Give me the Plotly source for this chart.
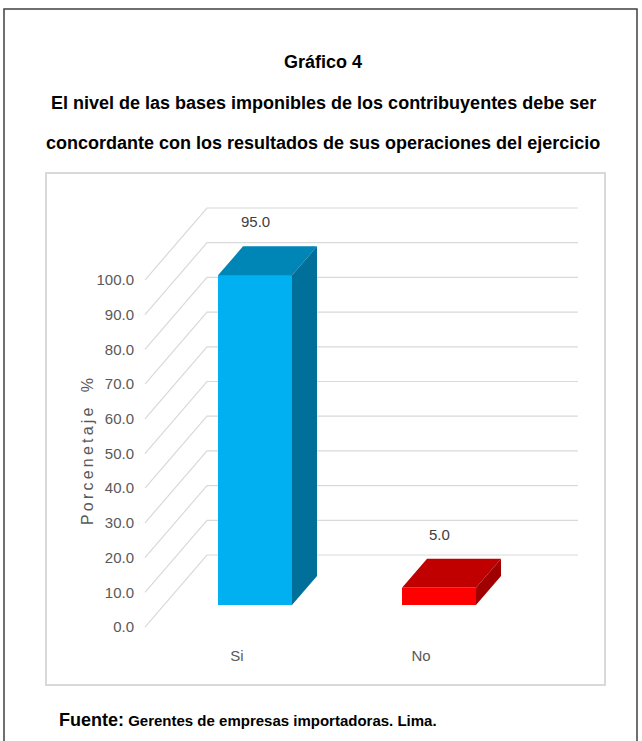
import plotly.graph_objects as go

# ---------------- data ----------------
categories = ["Si", "No"]
values = [95.0, 5.0]
value_labels = ["95.0", "5.0"]
tick_values = [0, 10, 20, 30, 40, 50, 60, 70, 80, 90, 100]
tick_labels = ["0.0", "10.0", "20.0", "30.0", "40.0", "50.0", "60.0", "70.0", "80.0", "90.0", "100.0"]
colors_front = ["#00B0F0", "#FF0000"]
colors_top = ["#0085B7", "#C00000"]
colors_side = ["#006F99", "#A10000"]

# ---------------- geometry (pseudo 3-D) ----------------
W, H = 642, 741
PL, PR, PT, PB = 46, 605, 173, 685          # plot area (inner frame) in px
X_RANGE = [-1.1359, 1.9022]
Y_RANGE = [-16.71, 130.84]
BAR_W = 0.402
BAR_BASE = 6.34        # front face floor (depth offset)
BAR_DX, BAR_DY = 0.136, 8.36
WALL_X_FRONT, WALL_X_BACK, WALL_X_RIGHT = -0.598, -0.261, 1.755
WALL_DY = 20.75

AXIS_FONT = "Liberation Sans, Arial, sans-serif"
TITLE_FONT = "Liberation Sans, Arial, sans-serif"


def xp(p):
    return (p - PL) / (PR - PL)


def yp(p):
    return (PB - p) / (PB - PT)


fig = go.Figure()

# gridlines: left side wall diagonals + back wall horizontals (below the bars)
for v in tick_values:
    path = "M {},{} L {},{} L {},{}".format(WALL_X_FRONT, v, WALL_X_BACK, v + WALL_DY,
                                            WALL_X_RIGHT, v + WALL_DY)
    fig.add_shape(type="path", xref="x", yref="y", path=path,
                  line=dict(color="#D9D9D9", width=1.2), layer="below")

# front faces
idx = list(range(len(categories)))
fig.add_trace(go.Bar(x=idx, y=values, base=[BAR_BASE] * len(values), width=BAR_W,
                     marker=dict(color=colors_front, line=dict(width=0)),
                     showlegend=False, hoverinfo="skip"))

# top and side faces
for i, v in enumerate(values):
    x0, x1 = i - BAR_W / 2, i + BAR_W / 2
    top = BAR_BASE + v
    fig.add_trace(go.Scatter(
        x=[x0, x1, x1 + BAR_DX, x0 + BAR_DX, x0],
        y=[top, top, top + BAR_DY, top + BAR_DY, top],
        fill="toself", fillcolor=colors_top[i], mode="lines", line=dict(width=0, color=colors_top[i]),
        hoverinfo="skip", showlegend=False))
    fig.add_trace(go.Scatter(
        x=[x1, x1, x1 + BAR_DX, x1 + BAR_DX, x1],
        y=[BAR_BASE, top, top + BAR_DY, BAR_BASE + BAR_DY, BAR_BASE],
        fill="toself", fillcolor=colors_side[i], mode="lines", line=dict(width=0, color=colors_side[i]),
        hoverinfo="skip", showlegend=False))

# data labels
for i, v in enumerate(values):
    fig.add_annotation(x=i, y=BAR_BASE + v + BAR_DY, text=value_labels[i], showarrow=False,
                       yanchor="bottom", yshift=14,
                       font=dict(family=AXIS_FONT, size=15, color="#404040"))

annotations_text = [
    ("Gráfico 4", 62),
    ("El nivel de las bases imponibles de los contribuyentes debe ser", 103),
    ("concordante con los resultados de sus operaciones del ejercicio", 143),
]
for t, y in annotations_text:
    fig.add_annotation(xref="paper", yref="paper", x=xp(323), y=yp(y), text="<b>" + t + "</b>",
                       showarrow=False, xanchor="center", yanchor="middle",
                       font=dict(family=TITLE_FONT, size=18, color="#000000"))

fig.add_annotation(xref="paper", yref="paper", x=xp(57), y=yp(720),
                   text="<b><span style='font-size:18px'>Fuente:</span> Gerentes de empresas importadoras. Lima.</b>",
                   showarrow=False, xanchor="left", yanchor="middle",
                   font=dict(family=TITLE_FONT, size=15, color="#000000"))

# axis title
fig.add_annotation(xref="paper", yref="paper", x=xp(87), y=yp(452),
                   text="P\u2009o\u2009r\u2009c\u2009e\u2009n\u2009e\u2009t\u2009a\u2009j\u2009e\u2009 \u2009 %",
                   textangle=-90, showarrow=False, xanchor="center", yanchor="middle",
                   font=dict(family=AXIS_FONT, size=16, color="#595959"))

# frames
fig.add_shape(type="rect", xref="paper", yref="paper", x0=0, y0=0, x1=1, y1=1,
              line=dict(color="#D9D9D9", width=2), layer="below")
fig.add_shape(type="rect", xref="paper", yref="paper", x0=xp(4), y0=yp(760), x1=xp(637), y1=yp(9),
              line=dict(color="#404040", width=1.5), layer="below")

fig.update_layout(
    width=W, height=H,
    margin=dict(l=PL, r=W - PR, t=PT, b=H - PB),
    paper_bgcolor="white", plot_bgcolor="white",
    bargap=0,
    xaxis=dict(range=X_RANGE, tickvals=idx, ticktext=categories, showgrid=False, zeroline=False,
               showline=False, ticks="", anchor="free", position=yp(645), ticklabelshift=-18,
               tickfont=dict(family=AXIS_FONT, size=15, color="#595959"), fixedrange=True),
    yaxis=dict(range=Y_RANGE, tickvals=tick_values, ticktext=tick_labels, showgrid=False,
               zeroline=False, showline=False, ticks="", anchor="free", position=xp(134),
               tickfont=dict(family=AXIS_FONT, size=15, color="#595959"), fixedrange=True),
)

fig.write_html("out.html")
